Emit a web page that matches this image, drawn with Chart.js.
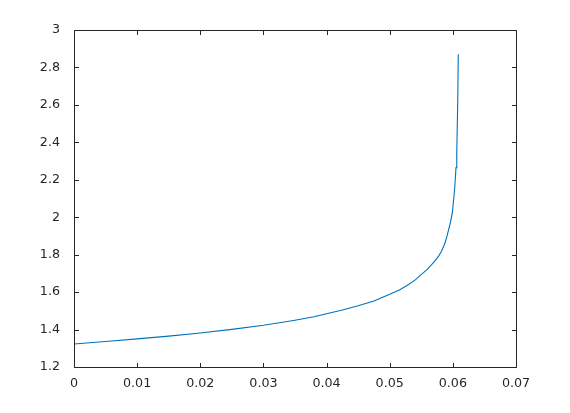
<!DOCTYPE html>
<html>
<head>
<meta charset="utf-8">
<script src="https://cdn.jsdelivr.net/npm/chart.js@4"></script>
<style>
  html, body { margin: 0; padding: 0; background: #fff; }
  #plot { display: block; }
</style>
</head>
<body>
<canvas id="plot" width="570" height="413"></canvas>
<script>
// values
const xValues = [0, 0.005, 0.01, 0.015, 0.02, 0.025, 0.03, 0.035, 0.038, 0.04,
                 0.0425, 0.045, 0.0475, 0.05, 0.0516, 0.053, 0.054, 0.0548, 0.0559,
                 0.0566, 0.0572, 0.0578, 0.0582, 0.0587, 0.059, 0.0596, 0.0599,
                 0.0601, 0.0603, 0.0605, 0.06062, 0.06077, 0.06086];
const yValues = [1.323, 1.336, 1.35, 1.365, 1.382, 1.401, 1.423, 1.450, 1.468, 1.484,
                 1.504, 1.527, 1.553, 1.588, 1.613, 1.641, 1.664, 1.688, 1.72,
                 1.745, 1.768, 1.795, 1.818, 1.857, 1.89, 1.97, 2.02,
                 2.085, 2.16, 2.265, 2.35, 2.614, 2.871];
const xTicks = [0, 0.01, 0.02, 0.03, 0.04, 0.05, 0.06, 0.07];
const yTicks = [1.2, 1.4, 1.6, 1.8, 2, 2.2, 2.4, 2.6, 2.8, 3];

const axisColor = '#262626';

// box round the axes with little ticks pointing inward, like the original
const boxPlugin = {
  id: 'box',
  afterDraw(chart) {
    const ctx = chart.ctx;
    const a = chart.chartArea;
    const L = Math.round(a.left) + 0.5, R = Math.round(a.right) + 0.5;
    const T = Math.round(a.top) + 0.5, B = Math.round(a.bottom) + 0.5;
    const len = 4.5;
    ctx.save();
    ctx.strokeStyle = axisColor;
    ctx.lineWidth = 1;
    ctx.beginPath();
    ctx.rect(L, T, R - L, B - T);
    chart.scales.x.ticks.forEach(t => {
      const px = Math.round(chart.scales.x.getPixelForValue(t.value)) + 0.5;
      ctx.moveTo(px, B); ctx.lineTo(px, B - len);
      ctx.moveTo(px, T); ctx.lineTo(px, T + len);
    });
    chart.scales.y.ticks.forEach(t => {
      const py = Math.round(chart.scales.y.getPixelForValue(t.value)) + 0.5;
      ctx.moveTo(L, py); ctx.lineTo(L + len, py);
      ctx.moveTo(R, py); ctx.lineTo(R - len, py);
    });
    ctx.stroke();
    ctx.restore();
  }
};

const points = xValues.map((x, i) => ({ x: x, y: yValues[i] }));

new Chart(document.getElementById('plot'), {
  type: 'line',
  data: {
    datasets: [{
      data: points,
      borderColor: '#0072BD',
      borderWidth: 1.1,
      pointRadius: 0,
      tension: 0,
      fill: false
    }]
  },
  options: {
    responsive: false,
    animation: false,
    events: [],
    layout: { padding: { top: 30, right: 54, left: 0, bottom: 0 } },
    plugins: { legend: { display: false }, tooltip: { enabled: false } },
    scales: {
      x: {
        type: 'linear',
        min: 0,
        max: 0.07,
        grid: { display: false },
        border: { display: false },
        afterFit: s => { s.height = 46; },
        afterBuildTicks: s => { s.ticks = xTicks.map(v => ({ value: v })); },
        ticks: {
          color: axisColor,
          padding: 1,
          maxRotation: 0,
          autoSkip: false,
          font: { family: 'DejaVu Sans', size: 12.7 },
          callback: v => String(Math.round(v * 100) / 100)
        }
      },
      y: {
        type: 'linear',
        min: 1.2,
        max: 3,
        grid: { display: false },
        border: { display: false },
        afterFit: s => { s.width = 74; },
        afterBuildTicks: s => { s.ticks = yTicks.map(v => ({ value: v })); },
        ticks: {
          color: axisColor,
          padding: 6,
          autoSkip: false,
          font: { family: 'DejaVu Sans', size: 12.7 },
          callback: v => String(Math.round(v * 10) / 10)
        }
      }
    }
  },
  plugins: [boxPlugin]
});
</script>
</body>
</html>
